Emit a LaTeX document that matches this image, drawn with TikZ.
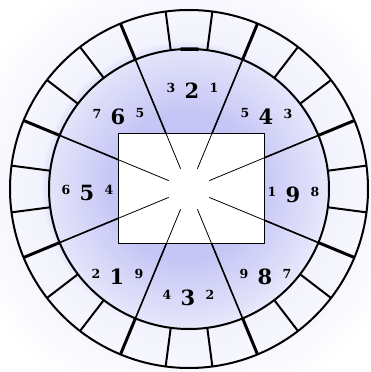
\documentclass[tikz,border=0pt]{standalone}
\usepackage{fontspec}
\setmainfont{DejaVu Serif}
\definecolor{dialblue}{RGB}{198,198,246}
\pgfdeclareradialshading{dialglow}{\pgfpoint{0bp}{0bp}}{color(0bp)=(dialblue); color(10bp)=(dialblue); color(18.8bp)=(dialblue!45); color(19.5bp)=(dialblue!22); color(24bp)=(dialblue!15); color(31bp)=(white); color(50bp)=(white)}

\begin{document}
\begin{tikzpicture}[x=1pt,y=1pt,
  bigdigit/.style={inner sep=0pt,font=\bfseries\fontsize{21}{21}\selectfont},
  smalldigit/.style={inner sep=0pt,font=\bfseries\fontsize{12.5}{12.5}\selectfont},
  rim/.style={line width=2pt},
  spoke/.style={line width=3pt}]
  \useasboundingbox (-189,-183) rectangle (182,189);
  \shade[shading=dialglow] (-189,-183) rectangle (182,189);
  \foreach \a in {22.5,67.5,...,337.5}
    \draw[line width=1.6pt] (\a:22) -- (\a:140);
  \draw[fill=white,line width=0.8pt] (-71,-54) rectangle (75,56);
  \foreach \a in {22.5,67.5,...,337.5} {
    \draw[line width=0.8pt] (\a:22) -- (\a:140);
    \draw[spoke] (\a:140) -- (\a:179);
  }
  \foreach \a in {0,45,...,315} {
    \draw[rim] (\a-7.5:140) -- (\a-7.5:179);
    \draw[rim] (\a+7.5:140) -- (\a+7.5:179);
  }
  \draw[rim] (0,0) circle (179);
  \draw[rim] (0,0) circle (140);
  \draw[line width=3.5pt] (93.5:140) arc[start angle=93.5,end angle=86,radius=140];
  \foreach \nm/\x/\y/\l/\b/\r in {g2/3/98/3/2/1, g4/77/72/5/4/3, g9/104/-6/1/9/8, g8/76/-88/9/8/7,
      g3/-1/-109/4/3/2, g1/-72/-88/2/1/9, g5/-102/-4/6/5/4, g6/-71/72/7/6/5} {
    \node[bigdigit] (\nm) at (\x,\y) {\b};
    \node[smalldigit] (\nm-l) at ([shift={(-21,3.5)}]\nm) {\l};
    \node[smalldigit] (\nm-r) at ([shift={(22,3.5)}]\nm) {\r};
  }
\end{tikzpicture}
\end{document}
